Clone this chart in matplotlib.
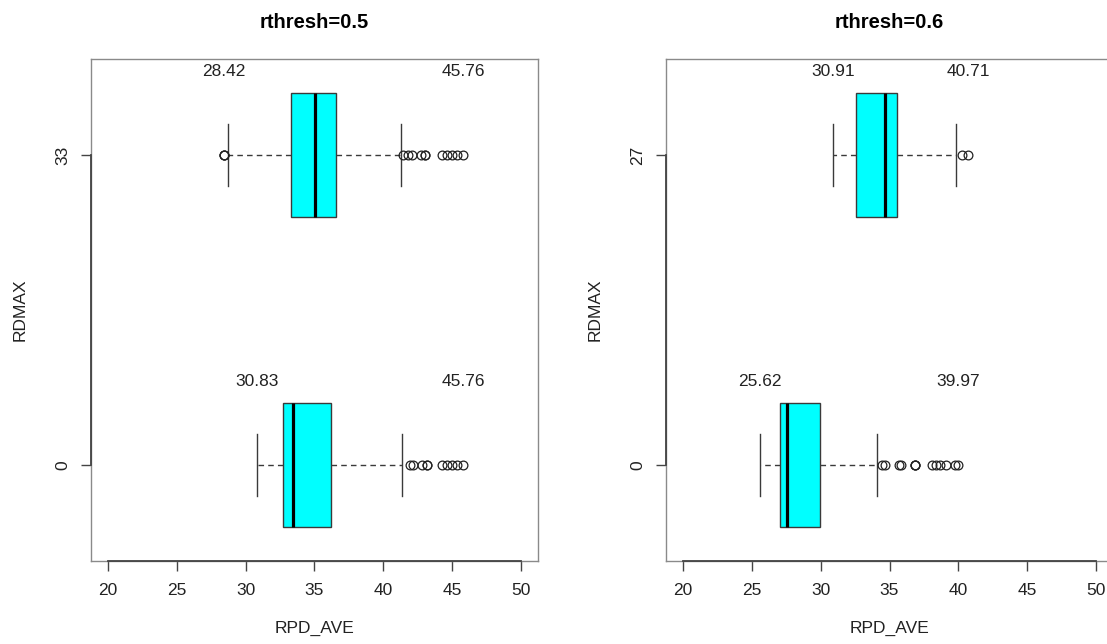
import matplotlib.pyplot as plt

plt.rcParams['font.family'] = ['Liberation Sans', 'DejaVu Sans']

# box statistics, position 1 = first label, 2 = second
panel_titles = ['rthresh=0.5', 'rthresh=0.6']
rdmax_labels = [['0', '33'], ['0', '27']]

q1_05 = [32.71, 33.29]
med_05 = [33.44, 35.03]
q3_05 = [36.19, 36.56]
whislo_05 = [30.83, 28.71]
whishi_05 = [41.35, 41.28]
fliers_05 = [
    [41.93, 42.17, 42.78, 43.14, 43.14, 44.23, 44.6, 44.96, 45.32, 45.76],
    [28.42, 28.42, 28.42, 41.42, 41.79, 42.08, 42.73, 43.02, 43.02,
     44.26, 44.62, 44.98, 45.35, 45.76],
]
min_05 = [30.83, 28.42]
max_05 = [45.76, 45.76]

q1_06 = [27.09, 32.56]
med_06 = [27.57, 34.67]
q3_06 = [29.99, 35.52]
whislo_06 = [25.62, 30.91]
whishi_06 = [34.09, 39.8]
fliers_06 = [
    [34.45, 34.67, 35.69, 35.83, 36.85, 36.85, 36.85, 38.08, 38.37,
     38.66, 39.1, 39.75, 39.97],
    [40.26, 40.71],
]
min_06 = [25.62, 30.91]
max_06 = [39.97, 40.71]

xticks = [20, 25, 30, 35, 40, 45, 50]


def make_stats(q1, med, q3, lo, hi, fl):
    stats = []
    for i in range(len(q1)):
        stats.append({'q1': q1[i], 'med': med[i], 'q3': q3[i],
                      'whislo': lo[i], 'whishi': hi[i], 'fliers': fl[i]})
    return stats


def draw_panel(ax, title, labels, stats, mins, maxs):
    ax.bxp(stats, positions=[1, 2], widths=0.4, capwidths=0.2,
           orientation='horizontal', patch_artist=True, showfliers=True,
           boxprops=dict(facecolor='#00ffff', edgecolor='#3a3a3a', linewidth=1),
           medianprops=dict(color='black', linewidth=2.3),
           whiskerprops=dict(color='#3a3a3a', linewidth=1, linestyle=(0, (4, 3))),
           capprops=dict(color='#3a3a3a', linewidth=1),
           flierprops=dict(marker='o', markersize=6.3, markerfacecolor='none',
                           markeredgecolor='#222222', markeredgewidth=0.9))
    ax.set_xlim(18.8, 51.2)
    ax.set_ylim(0.69, 2.31)
    ax.set_xticks(xticks)
    ax.set_yticks([1, 2])
    ax.set_yticklabels(labels, rotation=90, va='center')
    ax.tick_params(axis='both', length=7, width=1, color='#444444',
                   labelsize=12.5, labelcolor='#222222')
    ax.tick_params(axis='x', pad=9)
    ax.tick_params(axis='y', pad=8)
    for s in ax.spines.values():
        s.set_color('#8a8a8a')
        s.set_linewidth(1)
    # R style axis line between first and last tick
    ax.plot([xticks[0], xticks[-1]], [0.69, 0.69], color='#444444', lw=1.3,
            clip_on=False, zorder=5)
    ax.plot([18.8, 18.8], [1, 2], color='#444444', lw=1.3,
            clip_on=False, zorder=5)
    for i in range(2):
        ax.text(mins[i], i + 1 + 0.27, '%.2f' % mins[i], ha='center',
                va='center', fontsize=12.5, color='#222222')
        ax.text(maxs[i], i + 1 + 0.27, '%.2f' % maxs[i], ha='center',
                va='center', fontsize=12.5, color='#222222')
    ax.set_title(title, fontsize=14.5, fontweight='bold', pad=22)
    ax.set_xlabel('RPD_AVE', fontsize=12.5, labelpad=16, color='#222222')
    ax.set_ylabel('RDMAX', fontsize=12.5, labelpad=20, color='#222222')


fig = plt.figure(figsize=(11.07, 6.44), dpi=100)
ax1 = fig.add_axes([91 / 1107, 1 - 561 / 644, 447 / 1107, 502 / 644])
ax2 = fig.add_axes([666 / 1107, 1 - 561 / 644, 447 / 1107, 502 / 644])

draw_panel(ax1, panel_titles[0], rdmax_labels[0],
           make_stats(q1_05, med_05, q3_05, whislo_05, whishi_05, fliers_05),
           min_05, max_05)
draw_panel(ax2, panel_titles[1], rdmax_labels[1],
           make_stats(q1_06, med_06, q3_06, whislo_06, whishi_06, fliers_06),
           min_06, max_06)

fig.savefig('out.png', dpi=100)
